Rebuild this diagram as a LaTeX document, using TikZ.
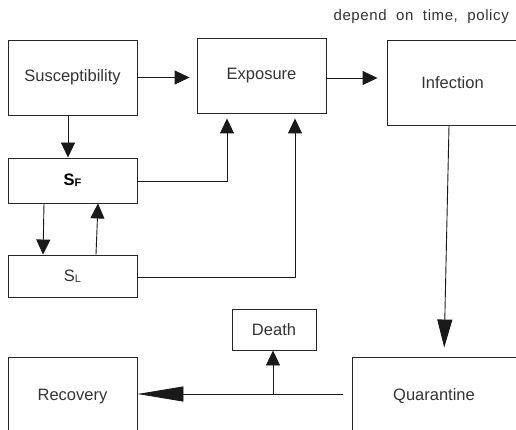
\documentclass[tikz,border=0pt]{standalone}
\usepackage{fontspec}
\setmainfont{Liberation Sans}
\newfontfamily\widefont[WordSpace=2,LetterSpace=4]{Liberation Sans}
\usetikzlibrary{arrows.meta}
\definecolor{txt}{HTML}{333333}
\tikzset{
  box/.style={draw=black!85, line width=0.9pt, inner sep=0pt, text=txt,
    font=\fontsize{16.5}{20}\selectfont},
  conn/.style={draw=black!90, line width=0.9pt},
  arr/.style={conn, -{Triangle[length=15pt,width=14pt]}},
  bigarr/.style={conn, -{Triangle[length=46pt,width=15pt]}},
  longarr/.style={conn, -{Triangle[length=28pt,width=15pt]}},
}
\begin{document}
\begin{tikzpicture}[x=1pt,y=-1pt]
\useasboundingbox (0,0) rectangle (516,430);
\clip (0,0) rectangle (516,430);
\node[text=txt, font=\widefont\fontsize{15}{17}\selectfont, anchor=east, inner sep=0pt] (note) at (509,17) {depend on time, policy};
\node[box, minimum width=129pt, minimum height=75pt] (S) at (72.5,77.5) {Susceptibility};
\node[box, minimum width=129pt, minimum height=75pt] (E) at (261.5,75.5) {Exposure};
\node[box, minimum width=131pt, minimum height=85pt] (I) at (452.5,82.5) {Infection};
\node[box, minimum width=129pt, minimum height=45pt, text=black] (SF) at (72.5,180.5) {\bfseries S{\fontsize{11}{12}\selectfont\raisebox{-1pt}{F}}};
\node[box, minimum width=129pt, minimum height=42pt] (SL) at (72.5,276) {S{\fontsize{11}{12}\selectfont\raisebox{-1pt}{L}}};
\node[box, minimum width=84pt, minimum height=41pt] (D) at (274,329.5) {Death};
\node[box, minimum width=129pt, minimum height=80pt] (R) at (72.5,397) {Recovery};
\node[box, minimum width=164pt, minimum height=78pt] (Q) at (434,396) {Quarantine};
% top row
\draw[arr, shorten >=7pt] (S.east) -- (E.west |- S.east);
\draw[arr, shorten >=9pt] (E.east |- 0,78) -- (I.west |- 0,78);
% S -> SF
\draw[arr] ([xshift=-4.5pt]S.south) -- ([xshift=-4.5pt]SF.north);
% SF <-> SL
\draw[arr] ([xshift=-28.5pt]SF.south) -- ([xshift=-29.5pt]SL.north);
\draw[arr] ([xshift=23.5pt]SL.north) -- ([xshift=25.5pt]SF.south);
% SF, SL -> Exposure
\coordinate (j1) at (227,181);
\coordinate (j2) at (295,277);
\draw[arr, shorten >=5pt] (SF.east |- j1) -- (j1) -- (j1 |- E.south);
\draw[arr, shorten >=5pt] (SL.east |- j2) -- (j2) -- (j2 |- E.south);
% Infection -> Quarantine
\draw[longarr, shorten >=9pt] ([xshift=-3.5pt]I.south) -- ([xshift=10pt]Q.north);
% Quarantine -> Recovery, Death
\coordinate (qs) at (343,394);
\coordinate (dj) at (273,394);
\draw[bigarr] (qs) -- (R.east |- qs);
\draw[arr] (dj) -- (dj |- D.south);
\end{tikzpicture}
\end{document}
